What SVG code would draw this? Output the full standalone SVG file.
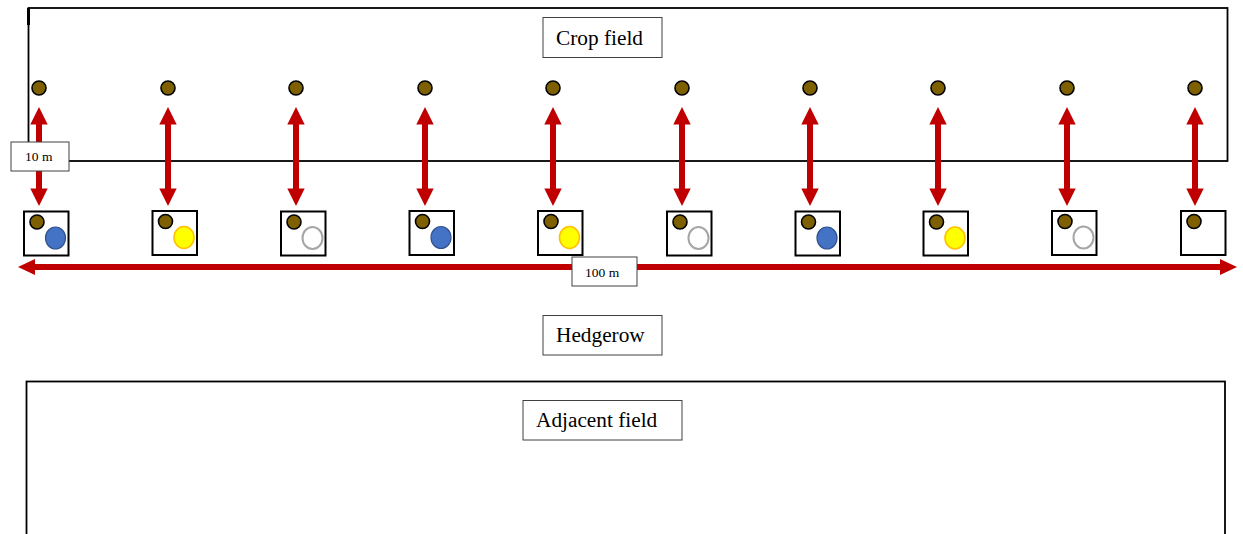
<svg xmlns="http://www.w3.org/2000/svg" xmlns:xlink="http://www.w3.org/1999/xlink" width="1243" height="534" viewBox="0 0 1243 534">
  <style>
    .field { fill: none; stroke: #000; stroke-width: 1.8; }
    .label-box { fill: #fff; stroke: #404040; stroke-width: 1; }
    .label { font-family: "Liberation Serif", "Times New Roman", serif; fill: #000; }
    .big { font-size: 21.3px; }
    .small { font-size: 13.5px; }
    .trap { fill: #fff; stroke: #000; stroke-width: 2; }
    .sample { fill: #7f6000; stroke: #000; stroke-width: 1.6; }
    .arrow { fill: #c00000; }
    .blue { fill: #4472c4; stroke: #2f528f; stroke-width: 1.2; }
    .yellow { fill: #ffff00; stroke: #ffc000; stroke-width: 1.6; }
    .white { fill: #fff; stroke: #a6a6a6; stroke-width: 2; }
  </style>
  <defs>
    <!-- double-headed vertical arrow, 10 m spacing -->
    <path id="varrow" d="M0,107 L8.7,124.5 L3,124.5 L3,188.5 L8.7,188.5 L0,206 L-8.7,188.5 L-3,188.5 L-3,124.5 L-8.7,124.5 Z"/>
  </defs>

  <rect width="1243" height="534" fill="#fff"/>

  <!-- crop field -->
  <g id="crop-field">
    <rect class="field" x="28.5" y="8" width="1199" height="153"/>
    <line x1="28.5" y1="8" x2="28.5" y2="25" stroke="#000" stroke-width="3"/>
    <rect class="label-box" x="543" y="17.5" width="119" height="40"/>
    <text class="label big" x="556" y="44.5">Crop field</text>
  </g>

  <!-- adjacent field -->
  <g id="adjacent-field">
    <rect class="field" x="26.5" y="381.5" width="1198.5" height="170"/>
    <rect class="label-box" x="523" y="400.5" width="159" height="39.5"/>
    <text class="label big" x="536" y="427">Adjacent field</text>
  </g>

  <!-- hedgerow label -->
  <g id="hedgerow">
    <rect class="label-box" x="543" y="315.5" width="119" height="39.5"/>
    <text class="label big" x="556" y="342">Hedgerow</text>
  </g>

  <!-- connectors -->
  <g id="connectors">
    <use xlink:href="#varrow" class="arrow" x="39"/>
    <use xlink:href="#varrow" class="arrow" x="168"/>
    <use xlink:href="#varrow" class="arrow" x="296"/>
    <use xlink:href="#varrow" class="arrow" x="425"/>
    <use xlink:href="#varrow" class="arrow" x="553"/>
    <use xlink:href="#varrow" class="arrow" x="682"/>
    <use xlink:href="#varrow" class="arrow" x="810"/>
    <use xlink:href="#varrow" class="arrow" x="938"/>
    <use xlink:href="#varrow" class="arrow" x="1067"/>
    <use xlink:href="#varrow" class="arrow" x="1195"/>
    <!-- 100 m transect along the hedgerow -->
    <path class="arrow" d="M18,267 L35,259 L35,264 L1220,264 L1220,259 L1237,267 L1220,275 L1220,270 L35,270 L35,275 Z"/>
  </g>

  <!-- distance labels -->
  <g id="label-10m">
    <rect class="label-box" x="11" y="142" width="58" height="29"/>
    <text class="label small" x="25" y="161">10 m</text>
  </g>
  <g id="label-100m">
    <rect class="label-box" x="572" y="257" width="65" height="29"/>
    <text class="label small" x="585" y="277">100 m</text>
  </g>

  <!-- in-field sampling points -->
  <g id="field-points">
    <circle class="sample" cx="39" cy="88" r="7"/>
    <circle class="sample" cx="168" cy="88" r="7"/>
    <circle class="sample" cx="296" cy="88" r="7"/>
    <circle class="sample" cx="425" cy="88" r="7"/>
    <circle class="sample" cx="553" cy="88" r="7"/>
    <circle class="sample" cx="682" cy="88" r="7"/>
    <circle class="sample" cx="810" cy="88" r="7"/>
    <circle class="sample" cx="938" cy="88" r="7"/>
    <circle class="sample" cx="1067" cy="88" r="7"/>
    <circle class="sample" cx="1195" cy="88" r="7"/>
  </g>

  <!-- hedgerow stations -->
  <g id="station-1" transform="translate(24,211.5)">
    <rect class="trap" width="44.5" height="44"/>
    <circle class="sample" cx="13" cy="10.5" r="7"/>
    <ellipse class="blue" cx="31.5" cy="26.5" rx="10" ry="11"/>
  </g>
  <g id="station-2" transform="translate(152.5,211)">
    <rect class="trap" width="44.5" height="44"/>
    <circle class="sample" cx="13" cy="10.5" r="7"/>
    <ellipse class="yellow" cx="31.5" cy="26.5" rx="10" ry="11"/>
  </g>
  <g id="station-3" transform="translate(281,211.5)">
    <rect class="trap" width="44.5" height="44"/>
    <circle class="sample" cx="13" cy="10.5" r="7"/>
    <ellipse class="white" cx="31.5" cy="26.5" rx="10" ry="11"/>
  </g>
  <g id="station-4" transform="translate(409.5,211)">
    <rect class="trap" width="44.5" height="44"/>
    <circle class="sample" cx="13" cy="10.5" r="7"/>
    <ellipse class="blue" cx="31.5" cy="26.5" rx="10" ry="11"/>
  </g>
  <g id="station-5" transform="translate(538,211)">
    <rect class="trap" width="44.5" height="44"/>
    <circle class="sample" cx="13" cy="10.5" r="7"/>
    <ellipse class="yellow" cx="31.5" cy="26.5" rx="10" ry="11"/>
  </g>
  <g id="station-6" transform="translate(667,211.5)">
    <rect class="trap" width="44.5" height="44"/>
    <circle class="sample" cx="13" cy="10.5" r="7"/>
    <ellipse class="white" cx="31.5" cy="26.5" rx="10" ry="11"/>
  </g>
  <g id="station-7" transform="translate(795.5,211.5)">
    <rect class="trap" width="44.5" height="44"/>
    <circle class="sample" cx="13" cy="10.5" r="7"/>
    <ellipse class="blue" cx="31.5" cy="26.5" rx="10" ry="11"/>
  </g>
  <g id="station-8" transform="translate(923.5,211.5)">
    <rect class="trap" width="44.5" height="44"/>
    <circle class="sample" cx="13" cy="10.5" r="7"/>
    <ellipse class="yellow" cx="31.5" cy="26.5" rx="10" ry="11"/>
  </g>
  <g id="station-9" transform="translate(1052,211)">
    <rect class="trap" width="44.5" height="44"/>
    <circle class="sample" cx="13" cy="10.5" r="7"/>
    <ellipse class="white" cx="31.5" cy="26.5" rx="10" ry="11"/>
  </g>
  <g id="station-10" transform="translate(1181,211)">
    <rect class="trap" width="44.5" height="44"/>
    <circle class="sample" cx="13" cy="10.5" r="7"/>
  </g>
</svg>
